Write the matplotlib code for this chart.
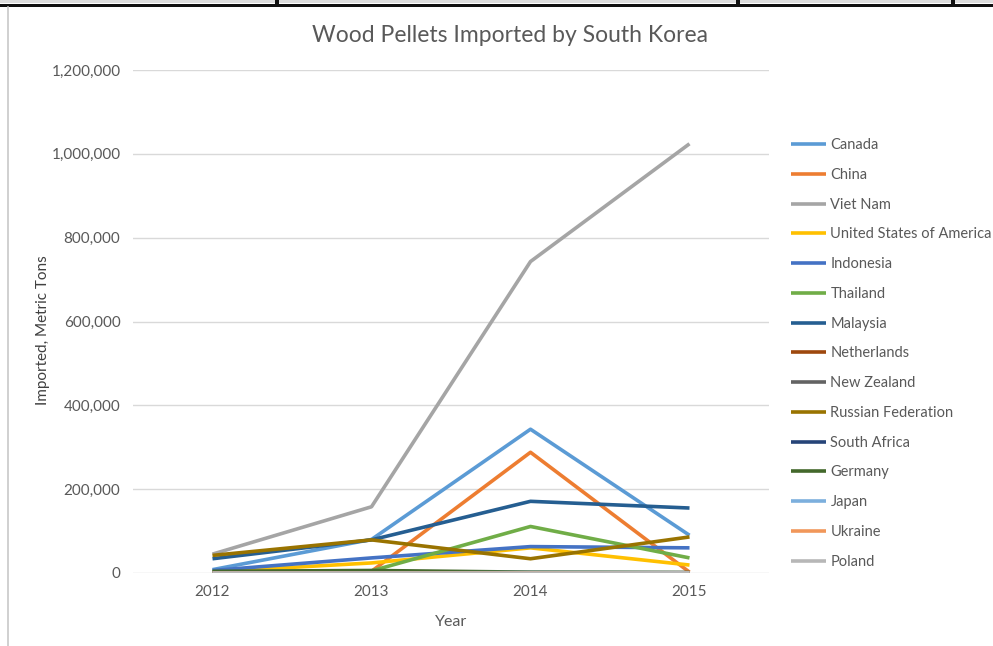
import matplotlib
matplotlib.use("Agg")
import matplotlib.pyplot as plt
from matplotlib.lines import Line2D
from matplotlib.patches import Rectangle

years = ["2012", "2013", "2014", "2015"]
countries = ["Canada", "China", "Viet Nam", "United States of America", "Indonesia",
             "Thailand", "Malaysia", "Netherlands", "New Zealand", "Russian Federation",
             "South Africa", "Germany", "Japan", "Ukraine", "Poland"]
colors = ["#5B9BD5", "#ED7D31", "#A5A5A5", "#FFC000", "#4472C4", "#70AD47", "#255E91",
          "#9E480E", "#636363", "#997300", "#264478", "#43682B", "#7CAFDD", "#F1975A", "#B7B7B7"]

canada = [8000, 80000, 343000, 90000]
china = [1000, 4000, 288000, 2000]
viet_nam = [45000, 158000, 743000, 1024000]
usa = [3000, 24000, 60000, 19000]
indonesia = [6000, 36000, 63000, 60000]
thailand = [2000, 5000, 111000, 36000]
malaysia = [34000, 79000, 171000, 155000]
netherlands = [0, 1000, 500, 0]
new_zealand = [1000, 1500, 1000, 1000]
russia = [42000, 79000, 34000, 86000]
south_africa = [0, 500, 0, 0]
germany = [4000, 6000, 2000, 1000]
japan = [0, 0, 1000, 500]
ukraine = [0, 0, 500, 0]
poland = [0, 0, 0, 500]

series = [canada, china, viet_nam, usa, indonesia, thailand, malaysia, netherlands,
          new_zealand, russia, south_africa, germany, japan, ukraine, poland]

plt.rcParams['font.family'] = ['Lato', 'DejaVu Sans']

fig = plt.figure(figsize=(9.93, 6.46), dpi=100)
W, H = 993, 646

# screenshot frame decorations
fig.patches.append(Rectangle((0, 1 - 3 / H), 1, 3 / H, transform=fig.transFigure,
                             facecolor="#DDDDDD", edgecolor="none", zorder=0))
fig.patches.append(Rectangle((0, 1 - 7 / H), 1, 3.5 / H, transform=fig.transFigure,
                             facecolor="#111111", edgecolor="none", zorder=1))
for xv in [277, 738, 953]:
    fig.patches.append(Rectangle((xv / W - 2 / W, 1 - 7 / H), 4 / W, 7 / H,
                                 transform=fig.transFigure, facecolor="#111111",
                                 edgecolor="none", zorder=1))
fig.add_artist(Line2D([7.5 / W, 7.5 / W], [0, 1 - 7 / H], transform=fig.transFigure,
                      color="#C8C8C8", lw=1.2))

ax = fig.add_axes([133 / W, 1 - 573 / H, (769 - 133) / W, (573 - 70) / H])
x = list(range(len(years)))
for name, vals, c in zip(countries, series, colors):
    ax.plot(x, vals, color=c, lw=2.6, label=name, solid_capstyle='butt')

ax.set_xlim(-0.5, 3.5)
ax.set_ylim(0, 1200000)
ax.set_yticks(range(0, 1200001, 200000))
ax.set_yticklabels([f"{v:,}" for v in range(0, 1200001, 200000)])
ax.set_xticks(x)
ax.set_xticklabels(years)
ax.grid(axis='y', color="#D9D9D9", lw=1)
ax.set_axisbelow(True)
for s in ax.spines.values():
    s.set_visible(False)
ax.tick_params(axis='both', length=0, colors="#595959", labelsize=11)
ax.tick_params(axis='y', pad=9)
ax.tick_params(axis='x', pad=9)

ax.set_xlabel("Year", color="#595959", fontsize=11.5, labelpad=11)
ax.set_ylabel("Imported, Metric Tons", color="#404040", fontsize=11)
ax.yaxis.set_label_coords((50 - 133) / (769 - 133), (573 - 330) / (573 - 70))
fig.text(510 / W, 1 - 36 / H, "Wood Pellets Imported by South Korea", ha='center',
         va='center', fontsize=16.5, color="#595959")

fig.legend(loc='upper left', bbox_to_anchor=(778 / W, 1 - 125 / H), frameon=False,
           fontsize=10.5, handlelength=2.4, handletextpad=0.3, labelspacing=1.08,
           labelcolor="#595959")

fig.savefig("out.png", dpi=100)
